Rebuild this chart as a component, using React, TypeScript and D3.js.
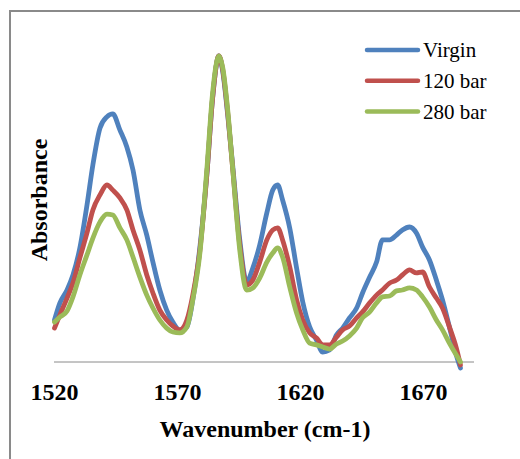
import React from "react";
import * as d3 from "d3";

const wavenumbers = [
  1520, 1522.2, 1525.1, 1527.5, 1530.3, 1533.2, 1535.6, 1538.5, 1541.3, 1543.7,
  1546.6, 1549.4, 1551.9, 1554.7, 1557.5, 1560.0, 1562.8, 1565.6, 1568.1, 1570.9,
  1573.8, 1576.2, 1579.1, 1581.9, 1584.3, 1586.8, 1588.4, 1590.4, 1592.4, 1595.3,
  1598.1, 1600.6, 1603.4, 1606.3, 1608.7, 1610.7, 1612.7, 1615.6, 1618.4, 1620.9,
  1623.7, 1626.5, 1629.0, 1631.8, 1634.6, 1637.1, 1639.9, 1642.8, 1645.2, 1648.1,
  1650.9, 1653.3, 1656.2, 1659.0, 1661.4, 1664.3, 1667.1, 1669.6, 1672.4, 1675.2,
  1677.7, 1680.5, 1683.3, 1685.0,
];

const virgin = [
  0.140, 0.197, 0.240, 0.290, 0.380, 0.523, 0.657, 0.780, 0.817, 0.827,
  0.773, 0.717, 0.640, 0.507, 0.423, 0.333, 0.240, 0.173, 0.133, 0.107,
  0.117, 0.207, 0.383, 0.623, 0.883, 1.020, 0.967, 0.823, 0.657, 0.407,
  0.267, 0.313, 0.390, 0.497, 0.573, 0.590, 0.540, 0.447, 0.313, 0.200,
  0.117, 0.073, 0.033, 0.040, 0.090, 0.113, 0.147, 0.180, 0.230, 0.283,
  0.333, 0.407, 0.407, 0.423, 0.440, 0.450, 0.430, 0.383, 0.340, 0.273,
  0.207, 0.117, 0.023, -0.020,
];

const bar120 = [
  0.113, 0.157, 0.213, 0.263, 0.347, 0.430, 0.507, 0.557, 0.590, 0.573,
  0.547, 0.507, 0.440, 0.373, 0.290, 0.230, 0.173, 0.140, 0.120, 0.107,
  0.140, 0.223, 0.373, 0.623, 0.883, 1.020, 0.973, 0.830, 0.647, 0.390,
  0.257, 0.273, 0.333, 0.407, 0.440, 0.447, 0.407, 0.317, 0.207, 0.140,
  0.097, 0.080, 0.057, 0.057, 0.083, 0.107, 0.120, 0.147, 0.167, 0.197,
  0.223, 0.240, 0.263, 0.273, 0.290, 0.307, 0.297, 0.300, 0.250, 0.213,
  0.180, 0.117, 0.047, -0.010,
];

const bar280 = [
  0.133, 0.150, 0.170, 0.217, 0.290, 0.357, 0.413, 0.467, 0.493, 0.490,
  0.447, 0.407, 0.350, 0.283, 0.223, 0.180, 0.140, 0.113, 0.100, 0.097,
  0.117, 0.207, 0.363, 0.640, 0.900, 1.020, 0.980, 0.840, 0.647, 0.373,
  0.240, 0.247, 0.280, 0.333, 0.363, 0.380, 0.350, 0.250, 0.163, 0.107,
  0.063, 0.057, 0.050, 0.043, 0.060, 0.070, 0.087, 0.113, 0.147, 0.167,
  0.197, 0.217, 0.220, 0.237, 0.240, 0.247, 0.240, 0.217, 0.183, 0.140,
  0.107, 0.063, 0.023, 0.000,
];

const seriesNames = ["Virgin", "120 bar", "280 bar"];
const seriesColors = ["#4F81BD", "#C0504D", "#9BBB59"];
const seriesValues = [virgin, bar120, bar280];
const xTicks = [1520, 1570, 1620, 1670];

const W = 520;
const H = 459;

export default function App() {
  const x = d3.scaleLinear().domain([1520, 1690.5]).range([54.5, 474]);
  const y = d3.scaleLinear().domain([0, 1]).range([362, 62]);
  const line = d3
    .line<number>()
    .x((_, i) => x(wavenumbers[i]))
    .y((v) => y(v))
    .curve(d3.curveMonotoneX);

  const serif = "'Liberation Serif', 'Times New Roman', serif";

  return (
    <svg
      width={W}
      height={H}
      style={{ position: "absolute", left: 0, top: 0, background: "#fff" }}
    >
      <rect x={0} y={0} width={W} height={H} fill="#fff" />
      <rect
        x={10}
        y={11}
        width={W}
        height={H}
        fill="#fff"
        stroke="#8a8a8a"
        strokeWidth={2}
      />
      <line x1={54} x2={474} y1={y(0)} y2={y(0)} stroke="#8a8a8a" strokeWidth={1} />
      {seriesValues.map((vals, si) => (
        <path
          key={si}
          d={line(vals) || ""}
          fill="none"
          stroke={seriesColors[si]}
          strokeWidth={4.8}
          strokeLinejoin="round"
          strokeLinecap="round"
        />
      ))}
      {xTicks.map((t) => (
        <text
          key={t}
          x={x(t)}
          y={400}
          textAnchor="middle"
          fontFamily={serif}
          fontWeight="bold"
          fontSize={24}
          fill="#000"
        >
          {t}
        </text>
      ))}
      <text
        x={265}
        y={437}
        textAnchor="middle"
        fontFamily={serif}
        fontWeight="bold"
        fontSize={24}
        fill="#000"
      >
        Wavenumber (cm-1)
      </text>
      <text
        transform="translate(46.5,200) rotate(-90)"
        textAnchor="middle"
        fontFamily={serif}
        fontWeight="bold"
        fontSize={24}
        fill="#000"
      >
        Absorbance
      </text>
      {seriesNames.map((name, i) => {
        const ly = 50 + i * 30.7;
        return (
          <g key={name}>
            <line
              x1={367}
              x2={418}
              y1={ly}
              y2={ly}
              stroke={seriesColors[i]}
              strokeWidth={4.5}
              strokeLinecap="round"
            />
            <text
              x={423}
              y={ly + 7.3}
              fontFamily={serif}
              fontSize={21}
              fill="#000"
            >
              {name}
            </text>
          </g>
        );
      })}
    </svg>
  );
}
